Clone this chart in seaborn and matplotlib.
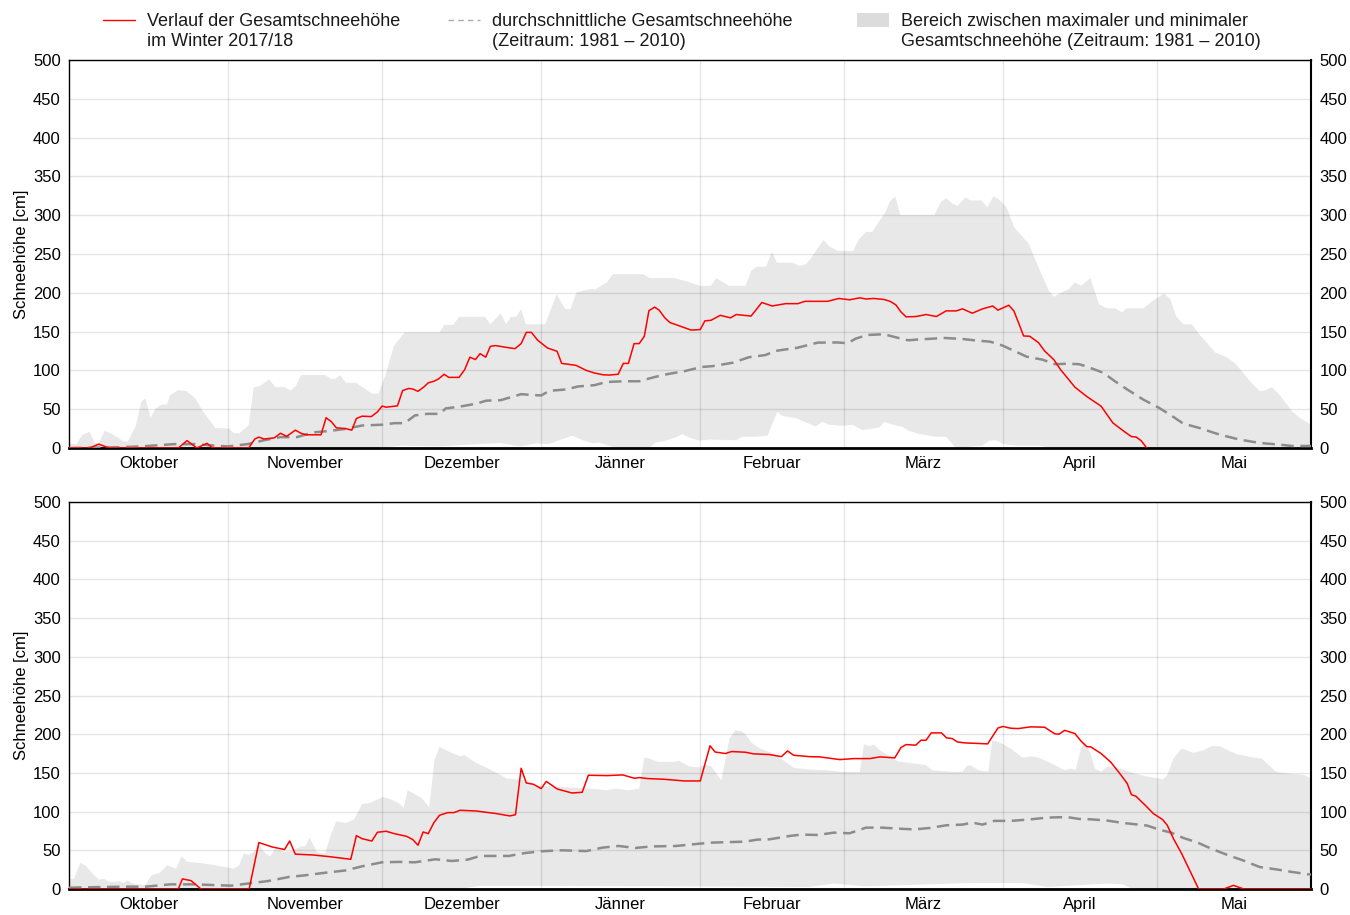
import numpy as np
import matplotlib
matplotlib.use("Agg")
import matplotlib.pyplot as plt
from matplotlib.lines import Line2D
from matplotlib.patches import Patch
import seaborn as sns

# ---------------- data (day index from 1 October) ----------------
month_names = ["Oktober", "November", "Dezember", "Jänner", "Februar", "März", "April", "Mai"]
month_starts = [0, 31, 61, 92, 123, 151, 182, 212, 242]
y_ticks = [0, 50, 100, 150, 200, 250, 300, 350, 400, 450, 500]

legend_line1 = [
    "Verlauf der Gesamtschneehöhe",
    "durchschnittliche Gesamtschneehöhe",
    "Bereich zwischen maximaler und minimaler",
]
legend_line2 = [
    "im Winter 2017/18",
    "(Zeitraum: 1981 – 2010)",
    "Gesamtschneehöhe (Zeitraum: 1981 – 2010)",
]

# ----- top panel -----
top_red_day = [0, 4, 5.8, 7.8, 21.3, 23, 24.9, 26.9, 28, 35, 36.2, 37, 38, 40, 41.2, 42.4, 44.1, 45.2, 46.2,
               49.1, 50.1, 51.1, 52.1, 53.9, 55.1, 56, 57.1, 58.9, 60.1, 61, 61.8, 64, 65, 66.2, 67, 68, 69.2,
               70, 71.1, 72, 73.1, 74, 76, 77.1, 78.1, 79.2, 80.1, 81.2, 82.1, 83.1, 84.9, 86.9, 88.1, 89.1,
               90.1, 91.3, 93.2, 95.1, 96, 98.8, 100.8, 102.4, 104, 105.2, 107, 108, 109, 110.1, 111.1, 112.1,
               113, 114.1, 115, 116.1, 117.1, 119.1, 121.2, 123, 123.9, 125.1, 126.9, 128.9, 130, 132.9, 135,
               137, 139.6, 142, 143.4, 147.8, 150, 152.1, 154.1, 155.3, 156.8, 158.8, 160, 161.1, 162.1, 163.1,
               165, 167, 169, 170.9, 172.9, 174.1, 176, 178, 180, 181, 183.1, 184.1, 185, 186, 187.2, 188.9,
               190.1, 191.9, 193.2, 196, 198.3, 201.1, 203.4, 205.8, 207, 207.9, 208.9, 210]
top_red_cm = [0, 0, 5, 0, 0, 9.5, 0, 6, 0, 0, 11.6, 14, 11.6, 13, 19, 15, 23, 19, 17,
              17, 39, 34, 26, 25, 23, 38, 41, 40.5, 46.5, 54, 52.6, 54.3, 74, 76.7, 76, 73, 79,
              84, 86, 89, 95, 91, 91, 101, 117, 114, 121.6, 117, 131, 132, 130, 128, 134.5, 149,
              149, 139, 129, 124.6, 109, 106.5, 100, 96.6, 94.4, 94, 95, 109, 109, 134.5, 134.5, 144,
              177, 181.5, 177.6, 167.7, 161.6, 157, 152, 152.6, 163.8, 164.6, 171, 167.7, 172, 170, 187.5,
              183, 186, 186, 189, 189, 192.7, 191, 193.5, 192, 192.7, 191.4, 189, 184.5, 175.4, 169,
              169.4, 172, 169.4, 176.7, 176.7, 179.3, 173.7, 179.3, 183, 177.6, 184, 176.7, 161.6, 144.4, 144, 135.8,
              125, 113.8, 101, 78.4, 66.4, 53.9, 32.3, 20.3, 14.7, 14.2, 9.5, 0]

top_avg_day = [0, 10, 14, 20.5, 24.5, 28.5, 31, 34.8, 38, 41.2, 44.4, 47.5, 50.7, 53.9, 57.1, 61, 63.4, 65.4,
               67.4, 69.8, 72.2, 73.4, 76.2, 79.3, 81.3, 84.1, 85.7, 88.1, 89.7, 92, 93.6, 96.8, 99.2, 102.4,
               104.7, 108, 111.1, 114.3, 116.7, 119.9, 123.2, 125.5, 129.4, 132.5, 135.7, 137.6, 139.6, 141.8,
               145.9, 149.8, 151.7, 153.3, 155.6, 158.8, 161.5, 163.5, 165.8, 168.6, 170.1, 174.1, 176.4, 179.5,
               181.9, 184.2, 186.6, 189.7, 192.1, 194.4, 196.8, 198.3, 201.5, 203.8, 206.2, 209.3, 212.4, 214.8,
               217.1, 220.2, 224.2, 228.1, 232, 235.9, 238.3, 242]
top_avg_cm = [0, 1, 2, 5, 5, 3, 2, 5, 10, 14, 14, 20, 22, 24.6, 29, 30, 32, 32,
              42, 44, 44, 51, 53.4, 57, 61, 61.6, 64.7, 69.4, 68.5, 67.7, 73.7, 75.4, 79.3, 81,
              85, 86, 86, 91.8, 95.3, 99, 104.3, 105.6, 110, 117, 119.8, 125, 127, 129,
              135.8, 136, 135, 141, 145.7, 146.6, 142, 138.8, 140, 141, 142, 140.5, 138.8, 137,
              132, 125, 117.7, 113.8, 108, 108.6, 108, 105, 97, 86, 75.4, 62.5, 51.7, 41.8,
              31.5, 25.9, 17.2, 10.8, 6.5, 4.3, 2.6, 2.6]

top_max_day = [0, 1.4, 2.6, 4, 5, 5.8, 7, 8.6, 10.6, 11.4, 13, 14.1, 14.9, 15.9, 16.9, 18.1, 19.1, 19.7, 21.3,
               22.9, 24.5, 26.1, 28.5, 31.2, 32.1, 33.2, 35, 36, 37.2, 39, 40.2, 42, 43.2, 44.2, 45.2, 49.9,
               51.1, 51.9, 52.9, 53.9, 55.9, 59.1, 60.3, 61.8, 63.3, 65.4, 72.2, 73.1, 74.9, 76, 81.1, 82.1,
               84.1, 85.2, 86.1, 87.1, 88.1, 89, 92.8, 95, 96.7, 97.7, 98.9, 101.6, 102.6, 104.8, 106, 111.9,
               113.1, 117.9, 119.9, 123, 125.1, 126.1, 128.6, 131.8, 133, 134, 135.8, 137, 137.9, 141, 142.3,
               143.5, 144.3, 147, 148.2, 149.8, 152.8, 153.9, 155.3, 156.5, 157.7, 159.1, 160, 161, 162,
               168.6, 169.9, 170.9, 172.1, 173.1, 174.7, 175.6, 177.8, 178.9, 180.1, 181.1, 182.7, 184.2, 187,
               188.9, 190.9, 191.9, 193, 194.8, 196, 197.2, 199, 200.7, 202.3, 203.8, 205.2, 206, 209.3, 211.6,
               213.4, 214.6, 215.7, 217.1, 218.8, 220.2, 223.4, 225.4, 227.3, 230.1, 232, 233.2, 234.4, 235.9,
               238.3, 239.8, 242]
top_max_cm = [6.5, 4.3, 17, 20.7, 6.5, 6.5, 22.4, 17.2, 8.6, 7.8, 28, 60, 63.8, 38.8, 50.9, 56, 56, 68, 74.6,
              73.3, 64.7, 47.4, 25.9, 25, 19, 19, 29.3, 78.4, 79.7, 88.4, 78.4, 78.4, 74, 79.7, 94, 94,
              89, 89, 94, 84, 84, 70, 70, 97, 131.5, 149, 149, 158.6, 158.6, 169, 169, 159.5,
              173.3, 159.5, 169, 169, 178.9, 159.5, 159.5, 198, 178.9, 178.9, 200.4, 204.7, 204.7, 213.4, 224, 224,
              219, 219, 215.5, 209, 209, 219, 209, 209, 229, 233.6, 233.6, 252.6, 238.8, 238.8, 234.5,
              236.6, 242, 268, 259.5, 254, 254, 269, 278.5, 278.5, 290.5, 304, 318, 324, 300,
              300, 317, 322, 315, 312, 323, 319, 319, 310, 324, 321, 310, 284, 263,
              233, 202.6, 194.8, 199, 204.7, 213.4, 209, 219, 185, 180, 180, 174.6, 180, 180, 191.6,
              199, 191.6, 170, 159.5, 159.5, 146.6, 122.8, 117.7, 108.6, 86.2, 73.3, 74.6, 78.4, 68,
              47.4, 38.8, 30.2]

top_min_day = [0, 60, 65, 72, 77, 84, 88, 91, 93.5, 95.5, 98.1, 100.1, 102, 103.3, 106.5, 113, 114.3, 116.2,
               118.2, 119.5, 120.8, 122.8, 124.7, 129.9, 131.2, 133.8, 136.1, 138, 139, 141.6, 143.6, 145.5,
               146.8, 148.1, 150.7, 152.7, 154.6, 155.9, 157.9, 158.8, 160.5, 162.4, 163.7, 165.7, 168.9,
               170.9, 172.8, 178, 179.3, 180.6, 182.2, 184.5, 189.1, 191.1, 242]
top_min_cm = [0, 0, 3, 2, 4, 6.5, 2, 6, 5, 10, 15.8, 10, 6, 7, 0, 0, 7, 9.4,
              13.7, 18, 13.7, 9.4, 11, 10, 14.5, 14.5, 15.8, 46.5, 41.4, 38.4, 33, 27.8,
              33.7, 30, 28.6, 30, 23, 24.3, 26.5, 33.7, 30, 27.3, 22, 18, 14.5,
              14.5, 0, 3, 9.4, 10, 5, 3, 3, 0, 0]

# ----- bottom panel -----
bot_red_day = [0, 21.3, 22.1, 23.8, 25.7, 35.1, 37, 39.6, 42, 43, 44.1, 47.5, 50.7, 54.9, 56, 57.1, 59, 60.1,
               61.8, 63.4, 65.8, 67, 68, 69, 70, 71.1, 72.2, 73.8, 75, 76.2, 79.3, 83.3, 85.9, 87, 88.1, 89.1,
               90.5, 92, 93, 95.1, 98, 100, 101.2, 104.8, 107.9, 110.2, 111.1, 112.7, 115.9, 119.9, 123,
               124.9, 125.9, 127.9, 129.1, 131.8, 133.4, 136.5, 138.8, 140, 141.2, 144.3, 146.3, 150.2, 152.9,
               156.1, 158, 160.9, 162.1, 163.1, 165, 166, 167, 168, 170, 171, 172.1, 173.1, 174.5, 179, 181,
               182, 183.5, 185, 187.4, 190.1, 192.1, 192.9, 194, 196, 197.2, 198.3, 199.1, 201.1, 203, 205,
               206.2, 207, 207.9, 209.7, 211.3, 213.1, 214, 215.2, 216.8, 218.3, 220.1, 225, 226.9, 228.9, 242]
bot_red_cm = [0, 0, 13, 10.8, 0, 0, 60, 54.3, 51, 62, 45, 44, 41.8, 38.4, 69, 65, 62, 73.3,
              74.6, 71.5, 68, 63.8, 56.5, 73.7, 71.5, 85.8, 95.3, 98.7, 98.7, 101.7, 100.8, 97.4, 94.4, 96, 156, 137,
              135.3, 129.7, 139, 129.3, 124, 125, 147, 146.5, 147.4, 143, 144, 142.7, 141.8, 139.6, 139.6,
              185, 177, 175, 177.6, 176.7, 174.6, 173.7, 171, 178.4, 172.8, 171, 170.7, 167.2, 168.5,
              168.5, 170.7, 169.4, 182.7, 186.6, 185.8, 192.2, 192.2, 201.7, 201.7, 195.2, 194.4, 190, 188.8, 187.5, 208,
              210, 207.7, 207.3, 209.5, 209, 200.4, 200, 205, 200.8, 191, 184, 183.6, 175, 163.8, 147,
              136.2, 122, 119.8, 108.2, 97.4, 89.6, 82.3, 65, 45.7, 25, 0, 0, 4.7, 0, 0]

bot_avg_day = [0, 7, 11, 15, 19.7, 24.5, 28.5, 31.6, 34.8, 38.8, 42.8, 46, 49.9, 53.9, 57.1, 61, 64.2, 67.4,
               71.4, 74.6, 77.7, 80.1, 85.7, 88.9, 92, 96, 100.8, 103.9, 107.1, 110.3, 113.5, 118.3, 122.9,
               125.5, 131.8, 134.1, 136.5, 140.4, 142.7, 145.9, 149, 152.1, 155.3, 158.4, 161.5, 164.7, 167.8,
               170.9, 174.1, 176, 178, 180.3, 183.5, 187.4, 190.5, 194.4, 196.8, 199.1, 202.3, 205.4, 207.8,
               210.1, 212.4, 214.8, 217.1, 219.9, 222.6, 225.7, 228.9, 232, 235.2, 238.3, 242]
bot_avg_cm = [1.7, 2.6, 3, 3, 6, 6, 5, 4.3, 7, 10.3, 15.5, 17.7, 21, 24, 29.3, 34.5, 35, 34.5,
              38.4, 36.2, 38, 42.7, 42.7, 46.5, 48.7, 50, 49, 53.4, 55.6, 53, 55, 55.6, 58.6,
              60, 61.2, 63.8, 64.2, 68.5, 70.3, 69.8, 72.8, 72, 79.3, 79.3, 78, 77, 78.9,
              82.3, 83.2, 85.8, 83.2, 88, 88, 90, 92.2, 93, 90.5, 90, 88.4, 85.3, 83.6,
              81.9, 76.7, 72.8, 66, 60, 52, 44, 36.6, 28.4, 25.4, 22, 18.5]

bot_max_day = [0, 1, 2.2, 3.2, 4.6, 5.8, 6.8, 7.8, 9, 9.8, 10.6, 11.4, 12.2, 13, 14.9, 16.1, 17.7, 19.1, 20.9,
               21.9, 23.1, 25.7, 28.5, 32, 33.2, 34, 35.1, 36, 37, 38, 39.2, 40.2, 42, 43.2, 45.2, 46, 46.9,
               48.3, 49.9, 51.1, 52.1, 53.9, 55.5, 57.1, 58.7, 61.2, 62.6, 64.2, 65.2, 66, 67.2, 68.8, 70.2,
               71.2, 72.2, 73.8, 76.2, 77.1, 79.3, 81.7, 85.3, 88.9, 90.9, 94.4, 97.6, 101.6, 104.8, 106.4,
               109.1, 111.1, 112.1, 113.1, 114.7, 117.5, 118.9, 120.7, 123, 123.9, 125.1, 127.1, 128.7, 129.8,
               131, 131.8, 133, 134.6, 137.3, 139.6, 141.2, 144.3, 147.5, 150.6, 154.1, 154.9, 155.9, 156.8,
               158, 161.5, 164.7, 167, 168.2, 171.7, 174.1, 174.9, 175.6, 177.2, 179.1, 179.9, 181.1, 183.5,
               185.8, 187.4, 188.9, 192.1, 194, 195.2, 196.1, 197.2, 197.9, 199.1, 199.9, 201.1, 202.3, 203.4,
               204.6, 207.7, 210.5, 213.2, 214, 215.2, 216.8, 219.1, 221.1, 222.6, 224.2, 226.1, 227.7, 230.8,
               232.4, 235.2, 237.5, 240.6, 242]
bot_max_cm = [13, 13.4, 33.6, 30.6, 19.8, 12, 13.4, 9.5, 9, 10.3, 7.8, 11, 7.8, 6, 5, 17.7, 20.7, 30.6, 26.3,
              42.2, 35, 33.6, 30.6, 26.3, 30.6, 45.7, 44, 47.8, 57.8, 47.8, 42.2, 52, 47.8, 49, 55, 55, 66.4,
              47.8, 45.7, 71.5, 87.5, 85.3, 89.6, 109.5, 111.2, 119, 116, 111.2, 104.7, 127.6, 123.3, 116.8, 105.2,
              166.4, 183.6, 178, 171.5, 172.8, 163, 155.6, 142.7, 140.5, 133, 132.7, 131, 129.7, 127.6, 129.7,
              127.6, 129.7, 169.8, 168.5, 164.2, 164.2, 165.5, 158.6, 157, 161, 158.6, 140.5, 194.4, 205,
              204, 200, 188.8, 181.5, 175, 164.2, 156.5, 154.3, 153.4, 151.3, 151.3, 187, 184.5, 186.6,
              179.3, 165, 162, 160, 153.4, 151.3, 151.3, 158.6, 160, 153.4, 151.3, 192.2, 190, 181.5,
              169.4, 171.5, 169.8, 160, 153.4, 155.6, 153.4, 181.5, 190, 174, 155.6, 151.3, 158.6, 157,
              155.6, 149, 144.8, 141.8, 147, 168.5, 181.5, 175.8, 179.3, 184.5, 184.5, 178.4, 174, 169.8,
              168.5, 151.3, 149, 147.4, 142.7]

bot_min_day = [0, 76, 80, 92, 120.8, 144.3, 149, 155.3, 176, 185.8, 190.5, 202.3, 205.4, 207.1, 242]
bot_min_cm = [0, 0, 4, 4, 3.4, 2.6, 7, 3.4, 7.8, 7.8, 2.6, 7, 6, 0, 0]

panels = [
    (top_red_day, top_red_cm, top_avg_day, top_avg_cm, top_max_day, top_max_cm, top_min_day, top_min_cm),
    (bot_red_day, bot_red_cm, bot_avg_day, bot_avg_cm, bot_max_day, bot_max_cm, bot_min_day, bot_min_cm),
]

# ---------------- styling ----------------
sns.set_theme(style="white")
plt.rcParams["font.family"] = ["Liberation Sans", "DejaVu Sans"]
plt.rcParams["text.color"] = "black"
plt.rcParams["axes.labelcolor"] = "black"

RED = "#ff0000"
AVG = "#8c8c8c"
BAND = "#e8e8e8"
DASH = (0, (5, 2.6))

fig = plt.figure(figsize=(13.5, 9.15), dpi=100)
W, H = 1350, 915
axes_px = [(69, 60, 1311, 448), (69, 502, 1311, 889)]

for (l, t, r, b), data in zip(axes_px, panels):
    rd, rv, ad, av, xd, xv, nd, nv = data
    ax = fig.add_axes([l / W, 1 - b / H, (r - l) / W, (b - t) / H])
    # band between max and min
    ax.fill(np.concatenate([xd, nd[::-1]]), np.concatenate([xv, nv[::-1]]),
            color=BAND, lw=0, zorder=0.2)
    sns.lineplot(x=ad, y=av, ax=ax, color=AVG, lw=1.8, linestyle=DASH, estimator=None, zorder=3)
    ax.lines[-1].set_linestyle(DASH)
    sns.lineplot(x=rd, y=rv, ax=ax, color=RED, lw=1.1, estimator=None, zorder=4)

    ax.set_xlim(0, 242)
    ax.set_ylim(0, 500)
    ax.set_yticks(y_ticks)
    ax.set_yticklabels([str(v) for v in y_ticks])
    centers = [(a + b_) / 2 for a, b_ in zip(month_starts[:-1], month_starts[1:])]
    ax.set_xticks(centers)
    ax.set_xticklabels(month_names)
    ax.set_xticks(month_starts[1:-1], minor=True)
    ax.set_axisbelow(True)
    ax.grid(False)
    ax.yaxis.grid(True, which="major", color="black", alpha=0.1, lw=1)
    ax.xaxis.grid(True, which="minor", color="black", alpha=0.1, lw=1)
    ax.tick_params(axis="both", which="both", length=0, labelsize=12, colors="black")
    ax.tick_params(axis="y", labelright=True, labelleft=True, pad=6)
    ax.tick_params(axis="x", pad=6)
    ax.set_xlabel("")
    ax.set_ylabel("Schneehöhe [cm]", fontsize=12, labelpad=3, color="black")
    for side, sp in ax.spines.items():
        sp.set_visible(True)
        sp.set_color("black")
        sp.set_linewidth(1.0)
    ax.spines["bottom"].set_linewidth(2.0)
    ax.spines["right"].set_linewidth(1.5)

# ---------------- legend ----------------
FS = 13
leg_specs = [
    (Line2D([], [], color=RED, lw=1.0), 103),
    (Line2D([], [], color="#aaaaaa", lw=1.0, linestyle=(0, (4, 3))), 448),
    (Patch(facecolor="#dcdcdc", edgecolor="none"), 857),
]
legends = []
for (handle, xpx), lab in zip(leg_specs, legend_line1):
    lg = fig.legend(handles=[handle], labels=[lab], loc="upper left",
                    bbox_to_anchor=(xpx / W, 1 - 13 / H), frameon=False, fontsize=FS,
                    handlelength=1.75, handleheight=0.85, handletextpad=0.68,
                    borderpad=0, borderaxespad=0, labelspacing=0, labelcolor="#1a1a1a")
    legends.append(lg)

fig.canvas.draw()
for lg, lab2 in zip(legends, legend_line2):
    bb = lg.get_texts()[0].get_window_extent()
    fig.text(bb.x0 / W, (bb.y0 - 19.5) / H, lab2, fontsize=FS, ha="left", va="bottom",
             color="#1a1a1a")

fig.savefig("out.png", dpi=100)
